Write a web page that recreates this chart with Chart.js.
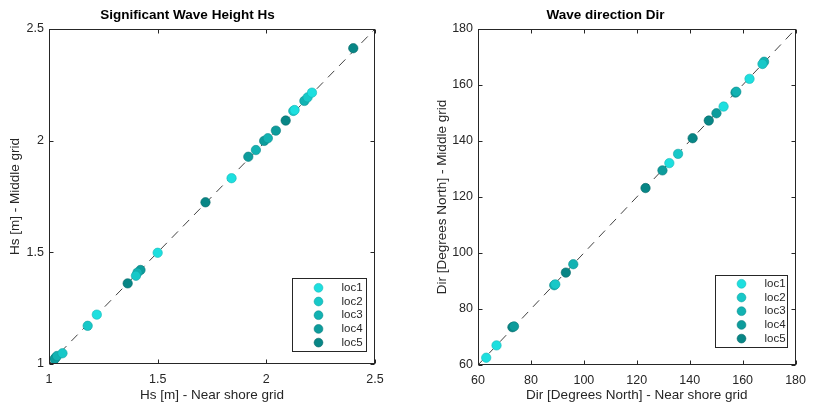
<!DOCTYPE html>
<html>
<head>
<meta charset="utf-8">
<script src="https://cdn.jsdelivr.net/npm/chart.js@4/dist/chart.umd.min.js"></script>
<style>
  html, body { margin: 0; padding: 0; background: #fff; }
  #wrap { position: relative; width: 814px; height: 403px; }
  .pane { position: absolute; top: 0; width: 407px; height: 403px; }
</style>
</head>
<body>
<div id="wrap">
  <div class="pane" style="left:0"><canvas id="hsChart" width="407" height="403"></canvas></div>
  <div class="pane" style="left:407px"><canvas id="dirChart" width="407" height="403"></canvas></div>
</div>
<script>
// --- data ---
const locNames = ["loc1", "loc2", "loc3", "loc4", "loc5"];
const locColors = ["#1ddfdf", "#17c8c8", "#12b2b2", "#0d9c9c", "#088686"];
const locEdges = ["#14b8b8", "#10a4a4", "#0c9090", "#087c7c", "#056868"];

// Significant wave height (m): near shore grid vs middle grid
const hsNear1 = [2.21, 2.13, 1.84, 1.50, 1.22];
const hsMid1 = [2.215, 2.137, 1.832, 1.498, 1.221];
const hsNear2 = [2.19, 2.124, 1.40, 1.178, 1.062];
const hsMid2 = [2.194, 2.133, 1.395, 1.171, 1.048];
const hsNear3 = [2.175, 2.007, 1.952, 1.407, 1.037];
const hsMid3 = [2.178, 2.011, 1.958, 1.409, 1.036];
const hsNear4 = [2.044, 1.99, 1.917, 1.421, 1.026];
const hsMid4 = [2.045, 1.999, 1.928, 1.421, 1.022];
const hsNear5 = [2.40, 2.089, 1.72, 1.362, 1.03];
const hsMid5 = [2.414, 2.09, 1.724, 1.361, 1.028];

// Wave direction (degrees North): near shore grid vs middle grid
const dirNear1 = [162.6, 152.8, 132.3, 67.0, 63.1];
const dirMid1 = [162.2, 152.3, 132.1, 67.0, 62.6];
const dirNear2 = [167.5, 135.6, 89.2];
const dirMid2 = [167.5, 135.4, 88.8];
const dirNear3 = [168.1, 157.6, 96.0, 88.8];
const dirMid3 = [168.3, 157.6, 96.0, 88.5];
const dirNear4 = [150.1, 129.7, 157.3, 73.6];
const dirMid4 = [149.9, 129.5, 157.3, 73.8];
const dirNear5 = [147.2, 141.1, 123.3, 93.2, 73.0];
const dirMid5 = [147.3, 141.0, 123.2, 93.0, 73.5];

const hsTicks = [1, 1.5, 2, 2.5];
const dirTicks = [60, 80, 100, 120, 140, 160, 180];

const FONT = "'Liberation Sans', Arial, Helvetica, sans-serif";
const INK = "#262626";

function pairs(xs, ys) {
  return xs.map((v, i) => ({ x: v, y: ys[i] }));
}

function buildSets(near, mid, lo, hi) {
  const sets = near.map((xs, i) => ({
    type: "scatter",
    label: locNames[i],
    data: pairs(xs, mid[i]),
    backgroundColor: locColors[i],
    borderColor: locEdges[i],
    borderWidth: 0.6,
    pointRadius: 4.7,
    pointHoverRadius: 4.7,
    order: 1
  }));
  // 1:1 reference line, drawn underneath the markers
  sets.push({
    type: "line",
    label: "one-to-one",
    data: [{ x: lo, y: lo }, { x: hi, y: hi }],
    borderColor: "#111",
    borderWidth: 0.8,
    borderDash: [9, 7],
    pointRadius: 0,
    fill: false,
    order: 10
  });
  return sets;
}

// box, inward ticks on all four sides and the in-axes legend (matlab look)
const matlabFrame = {
  id: "matlabFrame",
  afterDatasetsDraw(chart, args, opts) {
    const { ctx, chartArea: a, scales } = chart;
    const L = Math.round(a.left) + 0.5, R = Math.round(a.right) - 0.5;
    const T = Math.round(a.top) + 0.5, B = Math.round(a.bottom) - 0.5;
    ctx.save();
    ctx.strokeStyle = INK;
    ctx.lineWidth = 1;
    ctx.beginPath();
    scales.x.ticks.forEach(t => {
      const px = Math.round(scales.x.getPixelForValue(t.value)) + 0.5;
      ctx.moveTo(px, B); ctx.lineTo(px, B - 4);
      ctx.moveTo(px, T); ctx.lineTo(px, T + 4);
    });
    scales.y.ticks.forEach(t => {
      const py = Math.round(scales.y.getPixelForValue(t.value)) + 0.5;
      ctx.moveTo(L, py); ctx.lineTo(L + 4, py);
      ctx.moveTo(R, py); ctx.lineTo(R - 4, py);
    });
    ctx.stroke();
    ctx.strokeRect(L, T, R - L, B - T);

    // legend
    const bw = opts.w, bh = opts.h;
    const bx = Math.round(a.right - opts.right - bw) + 0.5;
    const by = Math.round(a.bottom - opts.bottom - bh) + 0.5;
    ctx.fillStyle = "#fff";
    ctx.fillRect(bx, by, bw, bh);
    ctx.strokeStyle = INK;
    ctx.strokeRect(bx, by, bw, bh);
    ctx.font = "11.5px " + FONT;
    ctx.textBaseline = "middle";
    ctx.textAlign = "left";
    chart.data.datasets.filter(d => d.type === "scatter").forEach((d, i) => {
      const ry = by + opts.first + i * opts.step;
      ctx.beginPath();
      ctx.arc(bx + opts.mark, ry, 4.4, 0, Math.PI * 2);
      ctx.fillStyle = d.backgroundColor;
      ctx.fill();
      ctx.strokeStyle = d.borderColor;
      ctx.lineWidth = 0.6;
      ctx.stroke();
      ctx.fillStyle = INK;
      ctx.fillText(d.label, bx + opts.text, ry);
    });
    ctx.restore();
  }
};

function makeChart(id, cfg) {
  return new Chart(document.getElementById(id), {
    data: { datasets: buildSets(cfg.near, cfg.mid, cfg.min, cfg.max) },
    plugins: [matlabFrame],
    options: {
      responsive: false,
      animation: false,
      events: [],
      layout: { padding: { left: 0, right: cfg.padRight, top: 0, bottom: 0 } },
      plugins: {
        legend: { display: false },
        tooltip: { enabled: false },
        title: {
          display: true,
          text: cfg.title,
          color: "#000",
          font: { family: FONT, size: 13.5, weight: "bold", lineHeight: 1.2 },
          padding: { top: 7, bottom: 5.8 }
        },
        matlabFrame: cfg.legend
      },
      scales: {
        x: {
          type: "linear",
          min: cfg.min,
          max: cfg.max,
          afterBuildTicks: s => { s.ticks = cfg.ticks.map(v => ({ value: v })); },
          afterFit: s => { s.height = cfg.xHeight; },
          grid: { display: false, drawTicks: false },
          border: { display: false },
          ticks: {
            color: INK, padding: 8, maxRotation: 0,
            font: { family: FONT, size: 12.5 },
            callback: v => String(v)
          },
          title: {
            display: true,
            text: cfg.xLabel,
            color: INK,
            font: { family: FONT, size: 13.5, lineHeight: 1.2 },
            padding: { top: 0, bottom: 0 }
          }
        },
        y: {
          type: "linear",
          min: cfg.min,
          max: cfg.max,
          afterBuildTicks: s => { s.ticks = cfg.ticks.map(v => ({ value: v })); },
          afterFit: s => { s.width = cfg.yWidth; },
          grid: { display: false, drawTicks: false },
          border: { display: false },
          ticks: {
            color: INK, padding: 5,
            font: { family: FONT, size: 12.5 },
            callback: v => String(v)
          },
          title: {
            display: true,
            text: cfg.yLabel,
            color: INK,
            font: { family: FONT, size: 13.5, lineHeight: 1.2 },
            padding: { top: cfg.yTitlePad, bottom: 0 }
          }
        }
      }
    }
  });
}

makeChart("hsChart", {
  title: "Significant Wave Height Hs",
  xLabel: "Hs [m] - Near shore grid",
  yLabel: "Hs [m] - Middle grid",
  near: [hsNear1, hsNear2, hsNear3, hsNear4, hsNear5],
  mid: [hsMid1, hsMid2, hsMid3, hsMid4, hsMid5],
  min: 1, max: 2.5, ticks: hsTicks,
  padRight: 32, xHeight: 39, yWidth: 49, yTitlePad: 7,
  legend: { w: 74, h: 73, right: 9, bottom: 13, first: 9.3, step: 13.7, mark: 26, text: 49 }
});

makeChart("dirChart", {
  title: "Wave direction Dir",
  xLabel: "Dir [Degrees North] - Near shore grid",
  yLabel: "Dir [Degrees North] - Middle grid",
  near: [dirNear1, dirNear2, dirNear3, dirNear4, dirNear5],
  mid: [dirMid1, dirMid2, dirMid3, dirMid4, dirMid5],
  min: 60, max: 180, ticks: dirTicks,
  padRight: 10, xHeight: 38, yWidth: 71, yTitlePad: 27,
  legend: { w: 72, h: 72, right: 9, bottom: 18, first: 8.3, step: 13.7, mark: 26, text: 49 }
});
</script>
</body>
</html>
